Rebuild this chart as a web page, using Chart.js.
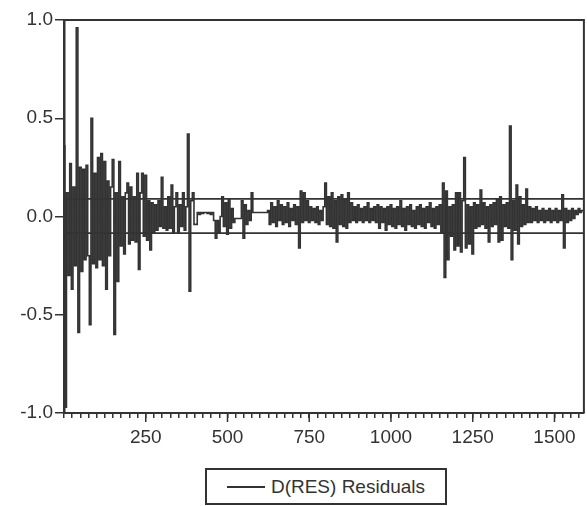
<!DOCTYPE html>
<html>
<head>
<meta charset="utf-8">
<script src="https://cdn.jsdelivr.net/npm/chart.js@4.4.0/dist/chart.umd.min.js"></script>
<style>
  body { margin: 0; background: #fff; }
  #wrap { position: relative; width: 587px; height: 506px; }
  #legend {
    position: absolute; left: 205px; top: 468px; width: 242px; height: 37px;
    box-sizing: border-box; border: 2px solid #333; background: #fff;
    display: flex; align-items: center; justify-content: center;
    font-family: "Liberation Sans", Arial, sans-serif; font-size: 19px; color: #333;
  }
  #legend .swatch { width: 38px; border-top: 2px solid #333; margin-right: 6px; }
</style>
</head>
<body>
<div id="wrap">
  <canvas id="myChart" width="587" height="506"></canvas>
  <div id="legend"><span class="swatch"></span><span>D(RES) Residuals</span></div>
</div>
<script>
var STEP = 5;
var residuals = [
    0.36, -0.97, 0.12, -0.30, 0.27, -0.37, 0.15, -0.25, 0.96, -0.59,
    0.25, -0.28, 0.24, -0.22, 0.26, -0.20, -0.55, 0.50, -0.24, 0.22,
    -0.26, 0.30, -0.22, 0.32, -0.25, 0.28, -0.37, 0.18, -0.20, 0.15,
    0.29, -0.60, 0.12, -0.33, 0.28, -0.15, 0.10, -0.19, 0.12, 0.17,
    -0.14, 0.15, -0.12, 0.10, -0.13, 0.22, -0.27, 0.12, 0.22, -0.10,
    0.21, -0.12, 0.08, -0.17, 0.07, -0.08, 0.06, -0.07, 0.08, -0.05,
    0.20, -0.06, 0.05, -0.07, 0.10, -0.06, 0.16, -0.08, 0.05, 0.12,
    -0.08, 0.06, -0.05, 0.12, -0.07, 0.05, 0.42, -0.38, 0.08, 0.12,
    -0.04, -0.04, 0.02, 0.01, 0.02, 0.015, 0.02, 0.02, 0.015, 0.02,
    0.01, 0.02, -0.02, -0.11, -0.02, -0.08, 0.00, 0.10, -0.05, 0.07,
    -0.09, 0.09, -0.06, 0.04, -0.03, -0.01, -0.01, -0.01, -0.01, 0.08,
    -0.11, 0.06, -0.04, 0.03, -0.02, 0.12, 0.02, 0.02, 0.02, 0.02,
    0.02, 0.02, 0.02, 0.02, 0.02, 0.03, -0.04, 0.07, -0.03, 0.05,
    -0.05, 0.08, -0.02, 0.06, -0.04, 0.05, -0.03, 0.07, -0.05, 0.04,
    -0.02, 0.06, -0.04, 0.05, -0.16, 0.13, -0.03, 0.12, -0.02, 0.08,
    -0.03, 0.05, -0.02, 0.04, -0.03, 0.05, -0.04, 0.03, -0.02, 0.05,
    0.17, -0.04, 0.10, -0.05, 0.12, -0.06, 0.08, -0.13, 0.10, -0.04,
    0.11, -0.05, 0.09, -0.06, 0.12, -0.03, 0.07, -0.02, 0.05, -0.03,
    0.06, -0.02, 0.04, -0.03, 0.05, -0.02, 0.07, -0.03, 0.04, -0.02,
    0.05, -0.03, 0.06, -0.06, 0.05, -0.03, 0.04, -0.07, 0.05, -0.04,
    0.06, -0.05, 0.04, -0.06, 0.05, -0.04, 0.08, -0.05, 0.04, -0.07,
    0.05, -0.04, 0.06, -0.05, 0.03, -0.06, 0.05, -0.04, 0.06, -0.05,
    0.04, -0.06, 0.05, -0.03, 0.07, -0.05, 0.04, -0.06, 0.05, -0.04,
    0.06, -0.08, 0.17, -0.31, 0.13, -0.22, 0.05, -0.10, 0.06, -0.17,
    0.12, -0.15, 0.12, -0.18, 0.08, 0.30, -0.16, 0.06, -0.14, 0.05,
    -0.19, 0.07, -0.06, 0.06, -0.05, 0.135, -0.04, 0.07, -0.06, 0.05,
    -0.13, 0.06, -0.05, 0.07, -0.04, 0.09, -0.13, 0.10, -0.12, 0.06,
    -0.05, 0.07, -0.06, 0.46, -0.22, 0.08, -0.07, 0.16, -0.14, 0.10,
    -0.05, 0.06, -0.04, 0.14, -0.03, 0.05, -0.03, 0.04, -0.02, 0.05,
    -0.03, 0.03, -0.02, 0.04, -0.03, 0.03, -0.02, 0.04, -0.03, 0.03,
    -0.02, 0.04, -0.03, 0.03, -0.02, 0.11, -0.16, 0.04, -0.03, 0.03,
    -0.02, 0.04, -0.01, 0.03, 0.01, 0.04, 0.02, 0.03, 0.03
];
var bandUpper = 0.09;
var bandLower = -0.085;
var X_MAX = 1590;
var yTicks = [-1.0, -0.5, 0.0, 0.5, 1.0];

var INK = '#333333';
var FONT = { family: '"Liberation Sans", Arial, sans-serif', size: 19 };

var points = residuals.map(function(v, i) { return { x: i * STEP, y: v }; });

// frame on top/right + longer major ticks on the x axis
var framePlugin = {
    id: 'frame',
    afterDraw: function(chart) {
        var ctx = chart.ctx;
        var a = chart.chartArea;
        var xs = chart.scales.x;
        ctx.save();
        ctx.strokeStyle = INK;
        ctx.lineWidth = 2;
        ctx.beginPath();
        ctx.moveTo(a.left, a.top);
        ctx.lineTo(a.right, a.top);
        ctx.lineTo(a.right, a.bottom);
        ctx.stroke();
        ctx.lineWidth = 1.5;
        xs.ticks.forEach(function(t) {
            if (t.value % 250 === 0 && t.value > 0) {
                var px = xs.getPixelForValue(t.value);
                ctx.beginPath();
                ctx.moveTo(px, a.bottom);
                ctx.lineTo(px, a.bottom + 9);
                ctx.stroke();
            }
        });
        ctx.restore();
    }
};

var ctx = document.getElementById('myChart').getContext('2d');
var myChart = new Chart(ctx, {
    type: 'line',
    data: {
        datasets: [{
            label: 'D(RES) Residuals',
            data: points,
            borderColor: INK,
            borderWidth: 1.6,
            pointRadius: 0,
            stepped: 'middle'
        }, {
            data: [{ x: 0, y: bandUpper }, { x: X_MAX, y: bandUpper }],
            borderColor: INK,
            borderWidth: 1.8,
            pointRadius: 0
        }, {
            data: [{ x: 0, y: bandLower }, { x: X_MAX, y: bandLower }],
            borderColor: INK,
            borderWidth: 1.8,
            pointRadius: 0
        }]
    },
    options: {
        responsive: false,
        animation: false,
        layout: { padding: { top: 20, right: 1, left: 0, bottom: 0 } },
        plugins: { legend: { display: false }, tooltip: { enabled: false } },
        scales: {
            x: {
                type: 'linear',
                min: 0,
                max: X_MAX,
                afterFit: function(s) { s.height = 93; },
                border: { color: INK, width: 2 },
                grid: { drawOnChartArea: false, color: INK, tickLength: 5, lineWidth: 1.5 },
                ticks: {
                    stepSize: 25,
                    includeBounds: false,
                    autoSkip: false,
                    maxRotation: 0,
                    padding: 8,
                    color: INK,
                    font: FONT,
                    callback: function(v) { return (v % 250 === 0 && v > 0) ? String(v) : ''; }
                }
            },
            y: {
                min: yTicks[0],
                max: yTicks[yTicks.length - 1],
                afterFit: function(s) { s.width = 64; },
                border: { color: INK, width: 2.5 },
                grid: { drawOnChartArea: false, color: INK, tickLength: 9, lineWidth: 1.5 },
                ticks: {
                    stepSize: 0.5,
                    padding: 2,
                    color: INK,
                    font: FONT,
                    callback: function(v) { return Number(v).toFixed(1); }
                }
            }
        }
    },
    plugins: [framePlugin]
});
</script>
</body>
</html>
